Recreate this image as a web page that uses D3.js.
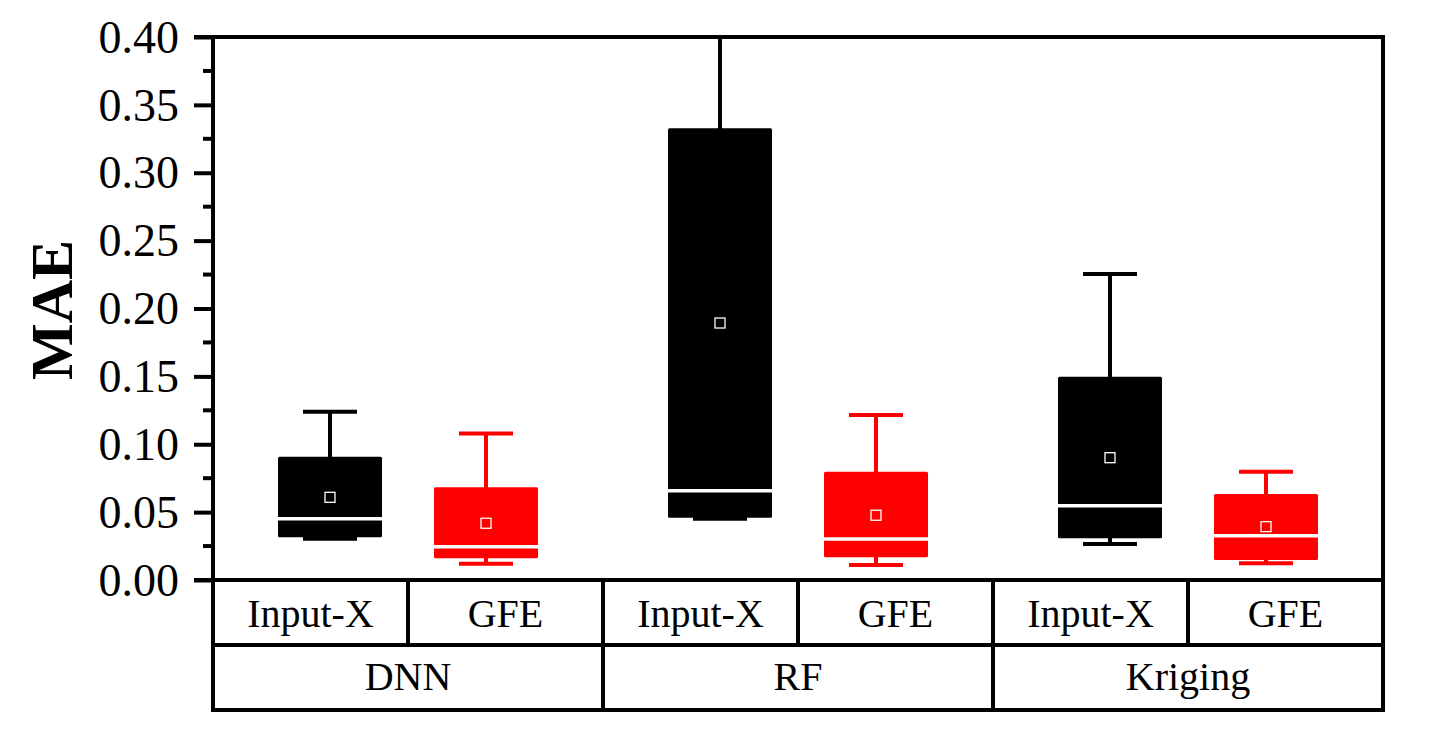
<!DOCTYPE html>
<html><head><meta charset="utf-8">
<script src="https://cdn.jsdelivr.net/npm/d3@7"></script>
<style>html,body{margin:0;padding:0;background:#fff;}svg{display:block;}</style>
</head><body>
<script>
const groups = ["DNN", "RF", "Kriging"];
const methods = ["Input-X", "GFE"];
const colors = ["#000000", "#ff0000"];
// per box, order: DNN Input-X, DNN GFE, RF Input-X, RF GFE, Kriging Input-X, Kriging GFE
const whiskerLow  = [0.0304, 0.0120, 0.0452, 0.0110, 0.0265, 0.0123];
const q1          = [0.0315, 0.0160, 0.0459, 0.0167, 0.0307, 0.0147];
const median      = [0.0452, 0.0245, 0.0658, 0.0302, 0.0547, 0.0326];
const q3          = [0.0908, 0.0683, 0.3327, 0.0798, 0.1498, 0.0634];
const whiskerHigh = [0.1240, 0.1080, 0.4500, 0.1215, 0.2254, 0.0798];
const means       = [0.0609, 0.0418, 0.1893, 0.0477, 0.0901, 0.0393];
const yTicks = [0, 0.05, 0.10, 0.15, 0.20, 0.25, 0.30, 0.35, 0.40];

const W = 1455, H = 730;
const L = 213, R = 1383, T = 37, B = 580, TB1 = 645, TB2 = 710;
const svg = d3.select("body").append("svg").attr("width", W).attr("height", H);

const y = d3.scaleLinear().domain([0, 0.4]).range([B, T]);
const xg = d3.scaleBand().domain(groups).range([L, R]).padding(0);
const xm = d3.scalePoint().domain(methods).range([0, xg.bandwidth()]).padding(0.75);
const slot = d3.scaleBand().domain(d3.range(groups.length * methods.length)).range([L, R]);

const boxes = [];
groups.forEach((g, gi) => methods.forEach((m, mi) => {
  const i = gi * methods.length + mi;
  boxes.push({g, m, mi, cx: xg(g) + xm(m), lo: whiskerLow[i], q1: q1[i], med: median[i], q3: q3[i], hi: whiskerHigh[i], mean: means[i], color: colors[mi]});
}));

svg.append("defs").append("clipPath").attr("id", "plot")
  .append("rect").attr("x", L).attr("y", T).attr("width", R - L).attr("height", B - T);

const plot = svg.append("g").attr("clip-path", "url(#plot)");
const bw = 104, capW = 54;
boxes.forEach(b => {
  const gg = plot.append("g");
  gg.append("line").attr("x1", b.cx).attr("x2", b.cx).attr("y1", y(b.hi)).attr("y2", y(b.lo))
    .attr("stroke", b.color).attr("stroke-width", 4);
  [b.hi, b.lo].forEach(v => gg.append("line").attr("x1", b.cx - capW / 2).attr("x2", b.cx + capW / 2)
    .attr("y1", y(v)).attr("y2", y(v)).attr("stroke", b.color).attr("stroke-width", 4));
  gg.append("rect").attr("x", b.cx - bw / 2).attr("width", bw).attr("y", y(b.q3)).attr("height", y(b.q1) - y(b.q3))
    .attr("rx", 1.5).attr("fill", b.color);
  gg.append("line").attr("x1", b.cx - bw / 2).attr("x2", b.cx + bw / 2).attr("y1", y(b.med)).attr("y2", y(b.med))
    .attr("stroke", "#fff").attr("stroke-width", 3.5);
  gg.append("rect").attr("x", b.cx - 5).attr("y", y(b.mean) - 5).attr("width", 10).attr("height", 10)
    .attr("fill", "none").attr("stroke", "#fff").attr("stroke-width", 1.3);
});

// y axis
const yAxis = d3.axisLeft(y).tickValues(yTicks).tickFormat(d3.format(".2f")).tickSize(19).tickPadding(15);
const ya = svg.append("g").attr("transform", `translate(${L},0)`).call(yAxis);
ya.select(".domain").remove();
ya.selectAll(".tick line").attr("stroke", "#000").attr("stroke-width", 4);
ya.selectAll(".tick text").attr("font-family", "'Liberation Serif','Times New Roman',serif").attr("font-size", 46)
  .attr("fill", "#000").attr("dy", "0.33em");
const minor = d3.range(0.025, 0.4, 0.05);
svg.append("g").selectAll("line").data(minor).join("line")
  .attr("x1", L - 10).attr("x2", L).attr("y1", d => y(d)).attr("y2", d => y(d))
  .attr("stroke", "#000").attr("stroke-width", 4);

// frame and table lines
const frame = svg.append("g").attr("stroke", "#000").attr("stroke-width", 4).attr("fill", "none");
frame.append("line").attr("x1", L - 19).attr("x2", R + 2).attr("y1", T).attr("y2", T);
frame.append("line").attr("x1", L).attr("x2", L).attr("y1", T - 2).attr("y2", TB2 + 2);
frame.append("line").attr("x1", R).attr("x2", R).attr("y1", T - 2).attr("y2", TB2 + 2);
frame.append("line").attr("x1", L - 19).attr("x2", R + 2).attr("y1", B).attr("y2", B);
frame.append("line").attr("x1", L).attr("x2", R + 2).attr("y1", TB1).attr("y2", TB1);
frame.append("line").attr("x1", L - 2).attr("x2", R + 2).attr("y1", TB2).attr("y2", TB2);
// dividers
slot.domain().slice(1).forEach(i => {
  const xx = slot(i);
  const isGroup = i % methods.length === 0;
  frame.append("line").attr("x1", xx).attr("x2", xx).attr("y1", B).attr("y2", isGroup ? TB2 : TB1);
});

const font = "'Liberation Serif','Times New Roman',serif";
slot.domain().forEach(i => {
  svg.append("text").attr("x", slot(i) + slot.bandwidth() / 2).attr("y", 627)
    .attr("text-anchor", "middle").attr("font-family", font).attr("font-size", 40).text(methods[i % methods.length]);
});
groups.forEach(g => {
  svg.append("text").attr("x", xg(g) + xg.bandwidth() / 2).attr("y", 690)
    .attr("text-anchor", "middle").attr("font-family", font).attr("font-size", 40).text(g);
});

svg.append("text").attr("transform", `translate(72,310) rotate(-90)`).attr("text-anchor", "middle")
  .attr("font-family", font).attr("font-weight", "bold").attr("font-size", 60).text("MAE");
</script>
</body></html>
